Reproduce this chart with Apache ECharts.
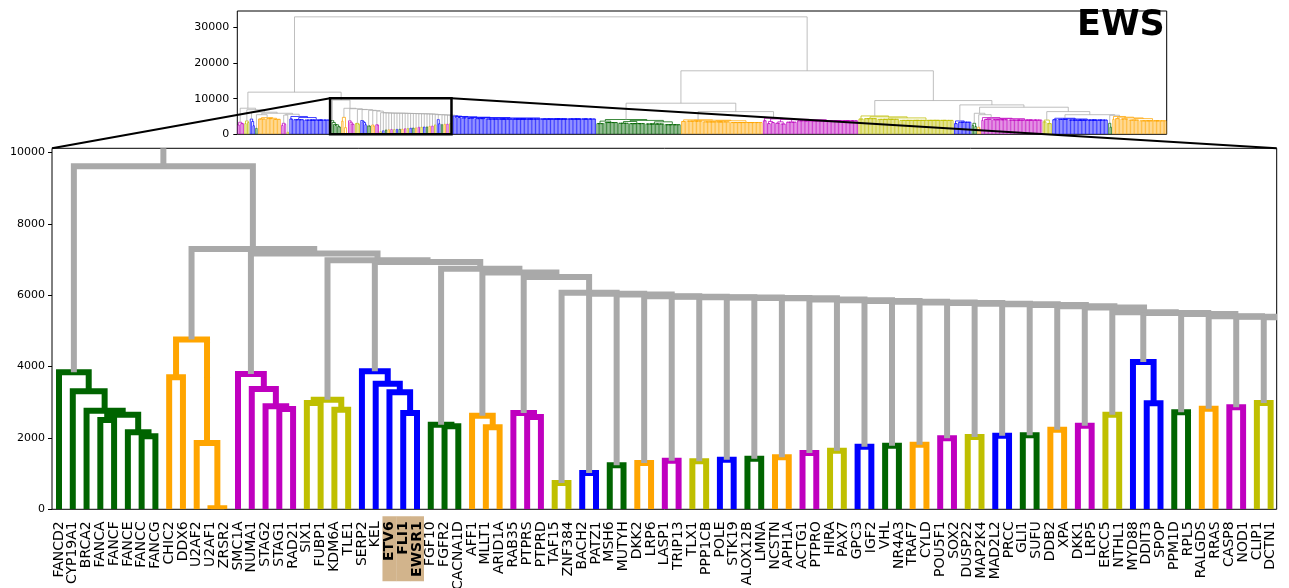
<!DOCTYPE html>
<html>
<head>
<meta charset="utf-8">
<script src="https://cdn.jsdelivr.net/npm/echarts/dist/echarts.min.js"></script>
<style>
  html, body { margin: 0; padding: 0; background: #fff; }
  #chart { width: 1289px; height: 588px; }
</style>
</head>
<body>
<div id="chart"></div>
<script>
// ---------------------------------------------------------------------------
// Hierarchical clustering of genes (EWS): overview dendrogram + zoomed subtree
// Nodes are [mergeHeight, left, right]; strings are labelled leaves;
// c(n, h) is a block of n unlabelled leaves that all merge at height h.
// ---------------------------------------------------------------------------
const FONT = 'DejaVu Sans';
const palette = ['#bf00bf', '#bfbf00', '#0000ff', '#006400', '#ffa500'];
const linkGray = '#a9a9a9';
const colorThreshold = 5300;
const highlightGenes = ['ETV6', 'FLI1', 'EWSR1'];
const c = (n, h) => ({ n, h });

// sub-clusters of the zoomed branch, left to right
const mainClusters = [
  [3842, 'FANCD2', [3308, 'CYP19A1', [2760, 'BRCA2', [2650, [2500, 'FANCA', 'FANCF'], [2160, 'FANCE', [2050, 'FANCC', 'FANCG']]]]]],
  [4757, [3700, 'CHIC2', 'DDX6'], [1859, 'U2AF2', [30, 'U2AF1', 'ZRSR2']]],
  [3794, 'SMC1A', [3373, 'NUMA1', [2888, 'STAG2', [2813, 'STAG1', 'RAD21']]]],
  [3074, [2981, 'SIX1', 'FUBP1'], [2794, 'KDM6A', 'TLE1']],
  [3870, 'SERP2', [3523, 'KEL', [3281, 'ETV6', [2700, 'FLI1', 'EWSR1']]]],
  [2373, 'FGF10', [2327, 'FGFR2', 'CACNA1D']],
  [2625, 'AFF1', [2299, 'MLLT1', 'ARID1A']],
  [2700, 'RAB35', [2588, 'PTPRS', 'PTPRD']],
  [737, 'TAF15', 'ZNF384'],
  [1018, 'BACH2', 'PATZ1'],
  [1234, 'MSH6', 'MUTYH'],
  [1298, 'DKK2', 'LRP6'],
  [1363, 'LASP1', 'TRIP13'],
  [1350, 'TLX1', 'PPP1CB'],
  [1391, 'POLE', 'STK19'],
  [1420, 'ALOX12B', 'LMNA'],
  [1458, 'NCSTN', 'APH1A'],
  [1579, 'ACTG1', 'PTPRO'],
  [1644, 'HIRA', 'PAX7'],
  [1756, 'GPC3', 'IGF2'],
  [1784, 'VHL', 'NR4A3'],
  [1812, 'TRAF7', 'CYLD'],
  [1991, 'POU5F1', 'SOX2'],
  [2028, 'DUSP22', 'MAP2K4'],
  [2065, 'MAD2L2', 'PRCC'],
  [2075, 'GLI1', 'SUFU'],
  [2233, 'DDB2', 'XPA'],
  [2345, 'DKK1', 'LRP5'],
  [2654, 'ERCC5', 'NTHL1'],
  [4131, 'MYD88', [2972, 'DDIT3', 'SPOP']],
  [2720, 'PPM1D', 'RPL5'],
  [2821, 'RALGDS', 'RRAS'],
  [2860, 'CASP8', 'NOD1'],
  [2981, 'CLIP1', 'DCTN1']
];
// large blue block that continues the chain to the right of the zoom window
const blueTail = [5200, c(1), [5100, c(1), [5000, c(2, 4800), [4900, c(3, 4700),
  [4800, c(4, 4600), [4700, c(6, 4500), [4600, c(8, 4400), c(81, 4300)]]]]]]];
// heights at which each cluster joins the rest of the chain
const mainJoinHeights = [
  9620, 7300, 7170, 6980, 6930, 6740, 6640, 6510,
  6070, 6040, 6020, 5975, 5955, 5945, 5935, 5925, 5915, 5880, 5860, 5840, 5820,
  5800, 5785, 5765, 5750, 5730, 5690, 5655, 5525, 5505, 5475, 5415, 5400, 5385
];

// branch left of the zoom window
const leftBranch =
  [7320, [3380, c(2, 2600), c(3, 3000)],
    [6900, [3750, c(2, 3000), c(2, 3300)],
      [6200, [4300, c(1), [3600, c(1), c(2, 2400)]],
        [5900, [5500, c(2, 1700), [4680, c(6, 4300), [4500, c(5, 4400), c(6, 4200)]]],
          [5630, [5400, [3100, c(2, 2500), c(2, 2800)], c(2, 600)],
            [5000, c(3, 4300), [4700, c(8, 4100), c(19, 4000)]]]]]]];

// right half of the tree
const green62 = [4150, [3700, c(6, 3000), c(10, 3300)], [3900, [3600, c(8, 3100), c(12, 3000)], [3500, c(14, 2900), c(12, 2700)]]];
const orange60 = [4050, c(4, 3600), [3950, c(12, 3700), [3800, c(20, 3500), c(24, 3300)]]];
const magenta70 = [4500, c(3, 3800), [4300, [3600, c(3, 3000), c(3, 3300)], [4200, [3500, c(4, 3100), c(4, 2900)], [4100, c(8, 3400), c(45, 3800)]]]];
const yellow70 = [5150, c(4, 4300), [4900, c(10, 4400), [4600, c(16, 4200), c(40, 3900)]]];
const blue13 = [3750, c(3, 3000), c(10, 3400)];
const green4 = [3100, c(2, 2500), c(2, 2200)];
const orange3 = [2000, c(1), c(2, 1500)];
const magenta45 = [4700, c(2, 3900), [4500, c(6, 4200), [4400, c(12, 4100), c(25, 4000)]]];
const yellow7 = [4000, c(3, 3500), c(4, 3000)];
const blue41 = [4500, c(4, 4100), [4300, c(8, 4200), c(29, 4000)]];
const green3 = [3100, c(1), c(2, 2000)];
const orange40 = [5000, c(2, 4200), [4800, c(4, 4400), [4600, c(6, 4300), [4400, c(8, 4000), c(20, 3800)]]]];

const rightBranch =
  [17820,
    [8730, green62, [6370, orange60, magenta70]],
    [9470, yellow70, [8250, blue13,
      [7600, [5900, green4, [5500, orange3, magenta45]],
             [6370, yellow7, [5500, blue41, [5350, green3, orange40]]]]]]];

const rootHeight = 32960;
const leftJoinHeight = 11830;
const overviewYMax = 34600;
const zoomYTop = 10120;

// ---------------------------------------------------------------------------
function chainOf(clusters, heights) {
  let node = clusters[clusters.length - 1];
  for (let k = heights.length - 1; k >= 0; k--) node = [heights[k], clusters[k], node];
  return node;
}
const mainBranch = chainOf(mainClusters.concat([blueTail]), mainJoinHeights);
const fullTree = [rootHeight, [leftJoinHeight, leftBranch, mainBranch], rightBranch];

function expandBlock(n, h) {
  if (n === 1) return '';
  const a = Math.floor(n / 2);
  return [h, expandBlock(a, h), expandBlock(n - a, h)];
}

// scipy-style layout: leaves at 10*i+5, links coloured per cluster below threshold
const links = [];
const leafTicks = [];
let leafCount = 0;
let clusterCount = 0;
function layout(node, color) {
  if (node && node.n !== undefined) node = expandBlock(node.n, node.h);
  if (typeof node === 'string') {
    const x = 10 * leafCount++ + 5;
    if (node) leafTicks.push({ x: x, name: node });
    return { x: x, h: 0 };
  }
  const h = node[0];
  let col = color;
  if (col === null && h < colorThreshold) col = clusterCount++ % palette.length;
  const a = layout(node[1], col);
  const b = layout(node[2], col);
  links.push([a.x, b.x, h, a.h, b.h, col === null ? -1 : col]);
  return { x: (a.x + b.x) / 2, h: h };
}
layout(fullTree, null);

const zoomX0 = leafTicks[0].x - 5.1;
const zoomX1 = leafTicks[leafTicks.length - 1].x + 4.4;
// window edges carry empty labels so the first/last gene labels are never dropped
const labelXs = [zoomX0].concat(leafTicks.map(t => t.x), [zoomX1]);
const nameAt = new Map(leafTicks.map(t => [t.x, t.name]));

function linkRenderer(width, alpha) {
  return function (params, api) {
    const xl = api.value(0), xr = api.value(1), h = api.value(2);
    const ci = api.value(5);
    const pts = [
      api.coord([xl, api.value(3)]), api.coord([xl, h]),
      api.coord([xr, h]), api.coord([xr, api.value(4)])
    ];
    return {
      type: 'polyline',
      shape: { points: pts },
      silent: true,
      style: {
        stroke: ci < 0 ? linkGray : palette[ci],
        lineWidth: width, fill: null, opacity: alpha,
        lineJoin: 'miter', lineCap: 'butt'
      }
    };
  };
}

const chart = echarts.init(document.getElementById('chart'), null, { renderer: 'canvas' });
const tickText = { fontFamily: FONT, fontSize: 11, color: '#000', formatter: v => String(v) };

chart.setOption({
  animation: false,
  backgroundColor: '#fff',
  grid: [
    { left: 237.3, top: 11, width: 929.4, height: 123.3, show: true, borderColor: '#000', borderWidth: 1,
      containLabel: false, outerBoundsMode: 'none' },
    { left: 52, top: 148.3, width: 1224.7, height: 361, show: true, borderColor: '#000', borderWidth: 1,
      containLabel: false, outerBoundsMode: 'none' }
  ],
  xAxis: [
    { gridIndex: 0, type: 'value', min: 0, max: 10 * leafCount,
      axisLine: { show: false }, axisTick: { show: false }, axisLabel: { show: false }, splitLine: { show: false } },
    { gridIndex: 1, type: 'value', min: zoomX0, max: zoomX1,
      axisLine: { show: false }, splitLine: { show: false }, axisTick: { show: false },
      axisLabel: {
        customValues: labelXs, rotate: 90, margin: 7,
        showMinLabel: false, showMaxLabel: false, hideOverlap: false,
        fontFamily: FONT, fontSize: 14, color: '#000',
        formatter: v => {
          const name = nameAt.get(v) || '';
          if (!name) return '';
          return highlightGenes.includes(name) ? '{hl|' + name + '}' : '{n|' + name + '}';
        },
        rich: {
          n: { fontFamily: FONT, fontSize: 14, color: '#000', lineHeight: 14, padding: [0, 5, 0, 0] },
          hl: { fontFamily: FONT, fontSize: 14, fontWeight: 'bold', color: '#000', lineHeight: 14,
                backgroundColor: '#d2b48c', padding: [0, 5, 0, 4], width: 56, align: 'right' }
        }
      } }
  ],
  yAxis: [
    { gridIndex: 0, type: 'value', min: 0, max: overviewYMax, interval: 10000,
      axisLine: { show: false }, splitLine: { show: false },
      axisTick: { show: true, length: 4, lineStyle: { color: '#000' } },
      axisLabel: Object.assign({ margin: 8, showMaxLabel: false }, tickText) },
    { gridIndex: 1, type: 'value', min: 0, max: zoomYTop, interval: 2000,
      axisLine: { show: false }, splitLine: { show: false },
      axisTick: { show: true, length: 4, lineStyle: { color: '#000' } },
      axisLabel: Object.assign({ margin: 7, showMaxLabel: false }, tickText) }
  ],
  series: [
    { type: 'custom', name: 'overview', xAxisIndex: 0, yAxisIndex: 0, clip: true, silent: true,
      data: links, renderItem: linkRenderer(1, 0.75) },
    { type: 'custom', name: 'zoom', xAxisIndex: 1, yAxisIndex: 1, clip: true, silent: true,
      data: links, renderItem: linkRenderer(6, 1) }
  ]
});

// zoom box in the overview and the lines that connect it to the zoomed axes
const ov = p => chart.convertToPixel({ xAxisIndex: 0, yAxisIndex: 0 }, p);
const mv = p => chart.convertToPixel({ xAxisIndex: 1, yAxisIndex: 1 }, p);
const bTL = ov([zoomX0, zoomYTop]), bBR = ov([zoomX1, 0]), bTR = ov([zoomX1, zoomYTop]);
const mTL = mv([zoomX0, zoomYTop]), mTR = mv([zoomX1, zoomYTop]);
const ovCorner = ov([10 * leafCount, overviewYMax]);

chart.setOption({
  graphic: [
    { type: 'rect', z: 100, silent: true,
      shape: { x: bTL[0], y: bTL[1], width: bBR[0] - bTL[0], height: bBR[1] - bTL[1] },
      style: { fill: null, stroke: '#000', lineWidth: 2.5 } },
    { type: 'line', z: 100, silent: true,
      shape: { x1: bTL[0], y1: bTL[1], x2: mTL[0], y2: mTL[1] },
      style: { stroke: '#000', lineWidth: 2 } },
    { type: 'line', z: 100, silent: true,
      shape: { x1: bTR[0], y1: bTR[1], x2: mTR[0], y2: mTR[1] },
      style: { stroke: '#000', lineWidth: 2 } },
    { type: 'text', z: 100, silent: true, x: ovCorner[0] - 2, y: ovCorner[1] - 3,
      style: { text: 'EWS', font: 'bold 35px "DejaVu Sans"', fill: '#000',
               align: 'right', verticalAlign: 'top', textAlign: 'right', textVerticalAlign: 'top' } }
  ]
});
</script>
</body>
</html>
